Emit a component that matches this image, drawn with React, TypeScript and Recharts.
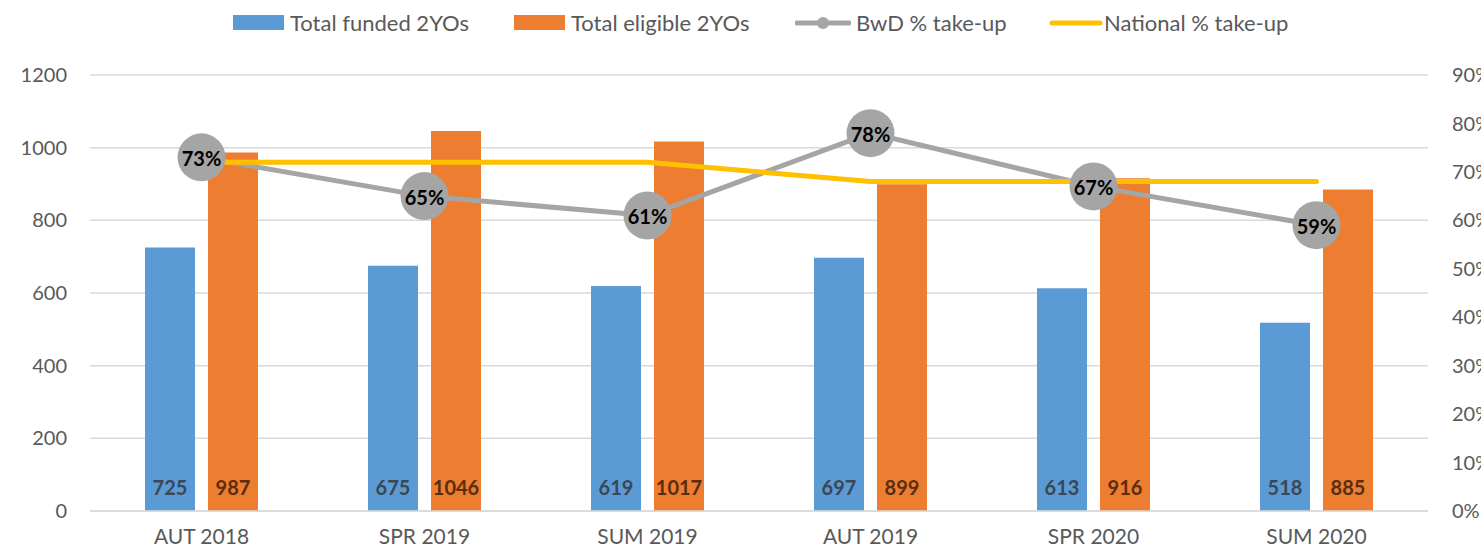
import React from "react";
import {
  ComposedChart,
  Bar,
  Line,
  XAxis,
  YAxis,
  CartesianGrid,
  LabelList,
} from "recharts";

const terms = ["AUT 2018", "SPR 2019", "SUM 2019", "AUT 2019", "SPR 2020", "SUM 2020"];
const funded = [725, 675, 619, 697, 613, 518];
const eligible = [987, 1046, 1017, 899, 916, 885];
const bwdTakeUp = [0.73, 0.65, 0.61, 0.78, 0.67, 0.59];
const nationalTakeUp = [0.72, 0.72, 0.72, 0.68, 0.68, 0.68];

const countTicks = [0, 200, 400, 600, 800, 1000, 1200];
const pctTicks = [0, 0.1, 0.2, 0.3, 0.4, 0.5, 0.6, 0.7, 0.8, 0.9];

const data = terms.map((term, i) => ({
  term,
  funded: funded[i],
  eligible: eligible[i],
  bwd: bwdTakeUp[i],
  national: nationalTakeUp[i],
}));

const FONT = "Lato, 'Open Sans', sans-serif";
const TEXT = "#595959";

const barLabel = (color: string) => (props: any) => {
  const { x, y, width, height, value } = props;
  return (
    <text
      x={x + width / 2}
      y={y + height - 24}
      textAnchor="middle"
      dominantBaseline="central"
      fontFamily={FONT}
      fontWeight={700}
      fontSize={20}
      fill={color}
    >
      {value}
    </text>
  );
};

const pctLabel = (props: any) => {
  const { x, y, value } = props;
  return (
    <text
      x={x}
      y={y + 1}
      textAnchor="middle"
      dominantBaseline="central"
      fontFamily={FONT}
      fontWeight={700}
      fontSize={20}
      fill="#000"
    >
      {Math.round(value * 100)}%
    </text>
  );
};

const BigDot = (props: any) => {
  const { cx, cy } = props;
  if (cx == null || cy == null) return null;
  return <circle cx={cx} cy={cy} r={24} fill="#a5a5a5" />;
};

function Legend() {
  const item = (left: number) =>
    ({ position: "absolute", left, top: 0, display: "flex", alignItems: "center" }) as const;
  return (
    <div
      style={{
        position: "absolute",
        top: 9,
        left: 0,
        height: 26,
        fontFamily: FONT,
        fontSize: 22,
        color: TEXT,
        whiteSpace: "nowrap",
      }}
    >
      <div style={item(233)}>
        <span style={{ width: 51, height: 15, background: "#5b9bd5", marginRight: 6 }} />
        Total funded 2YOs
      </div>
      <div style={item(514)}>
        <span style={{ width: 51, height: 15, background: "#ed7d31", marginRight: 6 }} />
        Total eligible 2YOs
      </div>
      <div style={item(795)}>
        <svg width={56} height={16} style={{ marginRight: 5 }}>
          <line x1={2} y1={8} x2={54} y2={8} stroke="#a5a5a5" strokeWidth={5} strokeLinecap="round" />
          <circle cx={28} cy={8} r={6} fill="#a5a5a5" />
        </svg>
        BwD % take-up
      </div>
      <div style={item(1049)}>
        <svg width={54} height={16} style={{ marginRight: 1 }}>
          <line x1={3} y1={8} x2={51} y2={8} stroke="#ffc000" strokeWidth={5} strokeLinecap="round" />
        </svg>
        National % take-up
      </div>
    </div>
  );
}

export default function App() {
  return (
    <div style={{ position: "absolute", left: 0, top: 0, width: 1481, height: 556, background: "#fff" }}>
      <Legend />
      <ComposedChart
        width={1481}
        height={556}
        data={data}
        margin={{ top: 75, right: 0, bottom: 0, left: 0 }}
        barGap={13}
      >
        <CartesianGrid yAxisId="left" vertical={false} stroke="#d9d9d9" strokeWidth={1.5} />
        <XAxis
          dataKey="term"
          height={45}
          axisLine={{ stroke: "#d9d9d9", strokeWidth: 1.5 }}
          tickLine={false}
          tickSize={0}
          tickMargin={18}
          tick={{ fill: TEXT, fontSize: 21, fontFamily: FONT }}
          interval={0}
        />
        <YAxis
          yAxisId="left"
          width={90}
          domain={[0, 1200]}
          ticks={countTicks}
          axisLine={false}
          tickLine={false}
          tickSize={0}
          tickMargin={23}
          tick={{ fill: TEXT, fontSize: 20, fontFamily: FONT }}
        />
        <YAxis
          yAxisId="right"
          orientation="right"
          width={53}
          domain={[0, 0.9]}
          ticks={pctTicks}
          tickFormatter={(v: number) => `${Math.round(v * 100)}%`}
          axisLine={false}
          tickLine={false}
          tickSize={0}
          tickMargin={24}
          tick={{ fill: TEXT, fontSize: 20, fontFamily: FONT, textAnchor: "start" }}
        />
        <Bar yAxisId="left" dataKey="funded" fill="#5b9bd5" barSize={50} isAnimationActive={false}>
          <LabelList dataKey="funded" content={barLabel("#3b4756")} />
        </Bar>
        <Bar yAxisId="left" dataKey="eligible" fill="#ed7d31" barSize={50} isAnimationActive={false}>
          <LabelList dataKey="eligible" content={barLabel("#5a2e0e")} />
        </Bar>
        <Line
          yAxisId="right"
          dataKey="bwd"
          stroke="#a5a5a5"
          strokeWidth={5}
          dot={<BigDot />}
          activeDot={false}
          isAnimationActive={false}
        />
        <Line
          yAxisId="right"
          dataKey="national"
          stroke="#ffc000"
          strokeWidth={5}
          strokeLinecap="round"
          dot={false}
          activeDot={false}
          isAnimationActive={false}
        />
        <Line
          yAxisId="right"
          dataKey="bwd"
          stroke="none"
          dot={false}
          activeDot={false}
          legendType="none"
          isAnimationActive={false}
        >
          <LabelList dataKey="bwd" content={pctLabel} />
        </Line>
      </ComposedChart>
    </div>
  );
}
